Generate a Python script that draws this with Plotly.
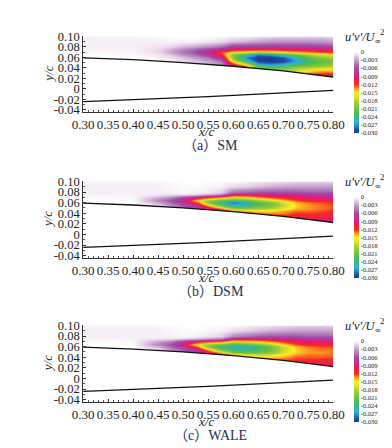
import numpy as np
import plotly.graph_objects as go

# grid of read-off values (u'v'/U_inf^2, in units of 1e-3)
x_c = [0.30, 0.35, 0.40, 0.45, 0.475, 0.50, 0.525, 0.55, 0.575, 0.60,
       0.625, 0.65, 0.675, 0.70, 0.725, 0.75, 0.775, 0.80]
# rows from top to bottom
y_c = [0.10, 0.09, 0.08, 0.075, 0.07, 0.065, 0.06, 0.055, 0.05, 0.045,
       0.04, 0.035, 0.03, 0.025, 0.02]

sm_cols = [
    [-0.4, -0.5, -0.5, -0.4, -0.25, -0.1, 0, 0, 0, 0, 0, 0, 0, 0, 0],
    [-0.4, -0.5, -0.5, -0.4, -0.25, -0.1, 0, 0, 0, 0, 0, 0, 0, 0, 0],
    [-0.4, -0.5, -0.5, -0.45, -0.3, -0.15, -0.05, 0, 0, 0, 0, 0, 0, 0, 0],
    [-0.3, -0.45, -0.8, -1.2, -1.2, -0.8, -0.4, -0.3, -0.3, -0.3, -0.3, -0.3, -0.3, -0.3, -0.3],
    [-0.1, -0.35, -1.4, -2.5, -2.8, -1.8, -0.9, -0.6, -0.6, -0.6, -0.6, -0.6, -0.6, -0.6, -0.6],
    [0, -0.4, -2.2, -4.0, -4.5, -3.5, -2.0, -1.3, -1.0, -1.0, -1.0, -1.0, -1.0, -1.0, -1.0],
    [0, -0.5, -2.8, -5.5, -6.0, -5.0, -3.2, -2.0, -1.5, -1.5, -1.5, -1.5, -1.5, -1.5, -1.5],
    [-0.1, -0.8, -3.5, -6.8, -8.5, -7.0, -4.5, -3.0, -2.5, -2.5, -2.5, -2.5, -2.5, -2.5, -2.5],
    [-0.3, -1.2, -4.5, -8.5, -12.5, -11, -8, -5, -4, -3.5, -3.5, -3.5, -3.5, -3.5, -3.5],
    [-0.5, -2, -7, -10.5, -16, -20, -20, -17.5, -13.5, -9.5, -8, -8, -8, -8, -8],
    [-0.6, -2.5, -7, -11, -17, -24, -27.5, -25, -20, -14, -11, -11, -11, -11, -11],
    [-1, -3, -7, -11, -19, -27.5, -30, -30, -28, -23, -20, -19, -19, -19, -19],
    [-1.2, -3.5, -7, -11, -18, -26.5, -30, -30, -29, -25, -22, -20, -20, -20, -20],
    [-1.5, -3.5, -7, -10.5, -16.5, -24, -28.5, -29.5, -28, -24, -21, -20, -19, -19, -19],
    [-1.5, -3.5, -7, -10.5, -15, -21, -25, -26.5, -25.5, -22, -19, -17, -16, -15, -15],
    [-1.5, -3.5, -7, -10, -14, -18.5, -22, -23.5, -23, -21, -18, -15, -13, -12, -12],
    [-1.5, -3.5, -6.5, -9.5, -13, -17, -20, -21.5, -21.5, -20, -17, -14, -12, -11, -11],
    [-1.2, -3, -6, -9, -12.5, -15.5, -18.5, -20.5, -20.5, -19, -16.5, -14, -12, -11, -10.5],
]

dsm_cols = [
    [-0.4, -0.5, -0.5, -0.4, -0.2, -0.05, 0, 0, 0, 0, 0, 0, 0, 0, 0],
    [-0.4, -0.5, -0.5, -0.4, -0.2, -0.05, 0, 0, 0, 0, 0, 0, 0, 0, 0],
    [-0.4, -0.5, -0.5, -0.45, -0.3, -0.1, 0, 0, 0, 0, 0, 0, 0, 0, 0],
    [-0.3, -0.5, -0.5, -0.8, -2.5, -4.0, -2.5, -1.0, -0.6, -0.6, -0.6, -0.6, -0.6, -0.6, -0.6],
    [-0.2, -0.3, -0.4, -0.9, -4.0, -6.0, -5.0, -3.5, -2.5, -2.5, -2.5, -2.5, -2.5, -2.5, -2.5],
    [0, -0.1, -0.3, -1.0, -6.5, -8.5, -7.0, -5.5, -5.0, -5.0, -5.0, -5.0, -5.0, -5.0, -5.0],
    [0, -0.1, -0.4, -1.5, -9, -15, -11, -7, -6, -5.5, -5.5, -5.5, -5.5, -5.5, -5.5],
    [-0.1, -0.3, -0.8, -2.5, -12, -19.5, -20, -14, -8.5, -7, -7, -7, -7, -7, -7],
    [-0.2, -0.5, -1.5, -4, -14, -22, -25, -21, -13, -9, -8, -8, -8, -8, -8],
    [-0.3, -1.2, -5, -10, -17, -23, -28, -25, -19, -14, -12, -12, -12, -12, -12],
    [-0.5, -1.5, -5.5, -10, -16, -22, -26, -24.5, -19.5, -14.5, -12, -12, -12, -12, -12],
    [-0.8, -2, -6, -9.5, -14, -19, -22.5, -22, -19, -15, -12.5, -12, -12, -12, -12],
    [-1, -2.5, -6, -9, -12.5, -17, -20.5, -20.5, -18, -15, -13, -12, -12, -12, -12],
    [-1.2, -2.8, -6, -8.5, -11.5, -14.5, -17, -17.5, -16, -14, -13, -12, -12, -12, -12],
    [-1.5, -3, -6, -8, -10.5, -12.5, -14, -14.5, -14, -13, -12, -11.5, -11, -11, -11],
    [-1.5, -3, -5.5, -7.5, -9.5, -11.5, -13, -13.5, -13.5, -13, -12, -11, -10.5, -10, -10],
    [-1.5, -3, -5.5, -7, -9, -11, -12.5, -13, -13, -12.5, -12, -11, -10, -9.5, -9.5],
    [-1.5, -3.2, -5.5, -7, -8.5, -10.5, -12, -12.5, -12.5, -12, -11.5, -10.5, -9.5, -9, -9],
]

wale_cols = [
    [-0.4, -0.5, -0.5, -0.4, -0.15, 0, 0, 0, 0, 0, 0, 0, 0, 0, 0],
    [-0.4, -0.5, -0.5, -0.4, -0.15, 0, 0, 0, 0, 0, 0, 0, 0, 0, 0],
    [-0.4, -0.5, -0.5, -0.45, -0.3, -0.1, 0, 0, 0, 0, 0, 0, 0, 0, 0],
    [-0.3, -0.5, -0.5, -0.9, -3.0, -4.0, -2.5, -1.0, -0.7, -0.7, -0.7, -0.7, -0.7, -0.7, -0.7],
    [-0.1, -0.3, -0.4, -1.0, -4.5, -6.0, -5.0, -3.5, -2.8, -2.8, -2.8, -2.8, -2.8, -2.8, -2.8],
    [0, -0.1, -0.3, -1.3, -7.5, -9.5, -7.0, -5.5, -5.0, -5.0, -5.0, -5.0, -5.0, -5.0, -5.0],
    [0, -0.1, -0.5, -2, -10, -16, -12, -7.5, -6, -5.5, -5.5, -5.5, -5.5, -5.5, -5.5],
    [-0.1, -0.3, -1, -3, -12, -19.5, -20, -14, -9, -7, -7, -7, -7, -7, -7],
    [-0.2, -0.5, -1.5, -4, -13, -21, -25, -21, -14, -10, -9, -9, -9, -9, -9],
    [-0.3, -1, -4, -9, -17, -23, -25.5, -24, -20, -14, -12, -12, -12, -12, -12],
    [-0.5, -1.5, -5, -9.5, -16, -22, -25.5, -24.5, -21, -16, -13, -12, -12, -12, -12],
    [-0.8, -2, -5.5, -9.5, -15, -20.5, -24, -23.5, -21, -17, -14, -13, -13, -13, -13],
    [-1, -2.5, -6, -9, -13.5, -18, -21, -21, -19.5, -16.5, -14, -13, -13, -13, -13],
    [-1.2, -2.8, -6, -8.5, -12, -15, -17, -17.5, -16.5, -15, -13.5, -12.5, -12.5, -12.5, -12.5],
    [-1.5, -3, -6, -8, -10.5, -12.5, -14, -14.5, -14.5, -13.5, -12.5, -12, -11.5, -11.5, -11.5],
    [-1.5, -3, -5.5, -7.5, -9.5, -11.5, -13, -13.5, -13.5, -13, -12.5, -12, -11, -10.5, -10.5],
    [-1.5, -3, -5.5, -7, -9.5, -11.5, -12.5, -13, -13.5, -13, -12.5, -11.5, -10.5, -10, -10],
    [-1.5, -3, -5.5, -7, -9.5, -11.5, -12.5, -13, -13, -13, -12.5, -11.5, -10.5, -10, -10],
]

# airfoil surfaces
upper_x = [0.30, 0.40, 0.50, 0.60, 0.70, 0.80]
upper_y = [0.059, 0.0555, 0.050, 0.043, 0.034, 0.0225]
lower_x = [0.30, 0.55, 0.80]
lower_y = [-0.0245, -0.015, -0.003]

x_ticks = [0.30, 0.35, 0.40, 0.45, 0.50, 0.55, 0.60, 0.65, 0.70, 0.75, 0.80]
y_ticks = [0.10, 0.08, 0.06, 0.04, 0.02, 0, -0.02, -0.04]
y_tick_text = ["0.10", "0.08", "0.06", "0.04", "0.02", "0", "-0.02", "-0.04"]
cb_ticks = [0, -0.003, -0.006, -0.009, -0.012, -0.015, -0.018, -0.021, -0.024, -0.027, -0.030]
cb_text = ["0", "-0.003", "-0.006", "-0.009", "-0.012", "-0.015", "-0.018",
           "-0.021", "-0.024", "-0.027", "-0.030"]
captions = ["（a）SM", "（b）DSM", "（c）WALE"]
fields = [sm_cols, dsm_cols, wale_cols]

colorscale = [
    [0.0, "#1c3b95"], [0.05, "#1f56b0"], [0.10, "#2696d8"], [0.14, "#2ab4e0"],
    [0.20, "#3cb878"], [0.27, "#5cbf45"], [0.37, "#9ccc3c"], [0.45, "#e0e028"],
    [0.50, "#fdf023"], [0.55, "#fd9a20"], [0.60, "#f42a24"], [0.67, "#ee1a5a"],
    [0.70, "#e61a7e"], [0.76, "#b03a9c"], [0.80, "#9c4ca4"], [0.90, "#c4a0cc"],
    [0.96, "#ecd8ec"], [1.0, "#ffffff"],
]

W, H = 392, 448
FONT = "Liberation Serif, Times New Roman, serif"
panel_top = [22, 171, 319]
panel_bot = [100, 250, 398]
x_left, x_right = 68, 333

def py(p):
    return 1 - p / H

def ann(text, xp, yp, size, xanchor="center", angle=0, color="#222", family=FONT):
    return dict(text=text, x=xp / W, y=py(yp), xref="paper", yref="paper",
                showarrow=False, xanchor=xanchor, yanchor="middle", textangle=angle,
                font=dict(family=family, size=size, color=color))

fig = go.Figure()
ys_asc = y_c[::-1]
annotations = []
for i in range(3):
    xa = "x" if i == 0 else f"x{i+1}"
    ya = "y" if i == 0 else f"y{i+1}"
    z = (np.array(fields[i], dtype=float).T[::-1]) * 1e-3
    fig.add_trace(go.Heatmap(
        x=x_c, y=ys_asc, z=z, zmin=-0.030, zmax=0, zsmooth="best",
        colorscale=colorscale, xaxis=xa, yaxis=ya, hoverinfo="skip",
        colorbar=dict(
            x=355 / W, xanchor="left", xpad=0,
            y=py(panel_top[i] + 16), yanchor="top", ypad=0,
            len=81, lenmode="pixels", thickness=5, outlinewidth=0,
            tickvals=cb_ticks, ticktext=cb_text, ticks="",
            tickfont=dict(family=FONT, size=6.5, color="#222"),
        ),
    ))
    # white mask under the upper surface
    fig.add_trace(go.Scatter(
        x=upper_x + [0.80, 0.30], y=upper_y + [0.012, 0.012],
        fill="toself", fillcolor="white", mode="lines",
        line=dict(width=0, color="white"), xaxis=xa, yaxis=ya,
        hoverinfo="skip", showlegend=False,
    ))
    fig.add_trace(go.Scatter(
        x=upper_x, y=upper_y, mode="lines", line=dict(color="#111", width=1.3),
        xaxis=xa, yaxis=ya, hoverinfo="skip", showlegend=False,
    ))
    fig.add_trace(go.Scatter(
        x=lower_x, y=lower_y, mode="lines", line=dict(color="#111", width=1.3),
        xaxis=xa, yaxis=ya, hoverinfo="skip", showlegend=False,
    ))
    axis_common = dict(
        showline=True, linecolor="#333", linewidth=1, ticks="inside",
        tickcolor="#333", ticklen=3, showgrid=False, zeroline=False,
    )
    fig.layout[("xaxis" if i == 0 else f"xaxis{i+1}")] = dict(
        axis_common, domain=[x_left / W, x_right / W], range=[0.30, 0.80],
        anchor=ya, tickvals=x_ticks, ticktext=[f"{v:.2f}" for v in x_ticks],
        tickfont=dict(family=FONT, size=13, color="#222"),
        minor=dict(ticks="inside", dtick=0.01, ticklen=2, tickcolor="#555"),
    )
    fig.layout[("yaxis" if i == 0 else f"yaxis{i+1}")] = dict(
        axis_common, domain=[py(panel_bot[i]), py(panel_top[i])],
        range=[-0.045, 0.10], anchor=xa, tickvals=y_ticks, ticktext=y_tick_text,
        tickfont=dict(family=FONT, size=12.5, color="#222"),
        minor=dict(ticks="inside", dtick=0.01, ticklen=2, tickcolor="#555"),
    )
    annotations += [
        ann("<i>y/c</i>", 31, (panel_top[i] + panel_bot[i]) / 2, 13, angle=-90),
        ann("<i>x/c</i>", 198, panel_bot[i] + 20, 13),
        ann(captions[i], 203, panel_bot[i] + 34, 14, color="#1f2d5a",
            family="Liberation Serif, Noto Sans CJK SC"),
        ann("<i>u'v'/U</i><sub>∞</sub>", 343, panel_top[i] + 2, 12.5, xanchor="left"),
        ann("2", 380, panel_top[i] - 5, 9, xanchor="left"),
    ]

fig.update_layout(
    width=W, height=H, margin=dict(l=0, r=0, t=0, b=0),
    paper_bgcolor="white", plot_bgcolor="white", showlegend=False,
    annotations=annotations,
)
fig.write_html("out.html")
